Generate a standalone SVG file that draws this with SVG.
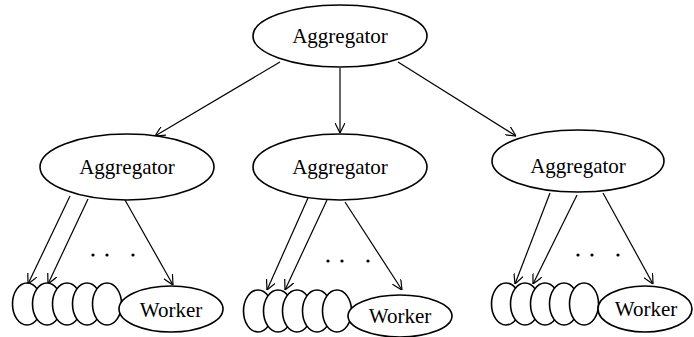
<svg xmlns="http://www.w3.org/2000/svg" width="694" height="337" viewBox="0 0 694 337">
<defs>
<marker id="arr" viewBox="0 0 10 10" refX="10" refY="5" markerWidth="10" markerHeight="10" markerUnits="userSpaceOnUse" orient="auto">
<path d="M0,0 L10,5 L0,10" fill="none" stroke="#000" stroke-width="1.2"/>
</marker>
</defs>
<style>
.n{fill:#fff;stroke:#000;stroke-width:1.6}
.t{font-family:"Liberation Serif",serif;font-size:21px;text-anchor:middle;fill:#000}
.c line{stroke:#000;stroke-width:1.2;marker-end:url(#arr)}
.d{fill:#000}
</style>
<rect width="694" height="337" fill="#fff"/>
<g class="c" id="connectors">
<line x1="280" y1="62" x2="155" y2="136"/>
<line x1="340" y1="68" x2="340" y2="133"/>
<line x1="398" y1="62" x2="516" y2="136"/>
<line x1="70" y1="196" x2="28" y2="284"/>
<line x1="88" y1="199" x2="48" y2="284"/>
<line x1="125" y1="200" x2="173" y2="285"/>
<line x1="308" y1="198" x2="267" y2="290"/>
<line x1="327" y1="200" x2="285" y2="290"/>
<line x1="345" y1="202" x2="402" y2="290"/>
<line x1="550" y1="193" x2="515" y2="284"/>
<line x1="577" y1="195" x2="533" y2="284"/>
<line x1="603" y1="193" x2="653" y2="284"/>
</g>
<g id="agg-top"><ellipse class="n" cx="340" cy="36" rx="87" ry="31"/><text class="t" x="340" y="43">Aggregator</text></g>
<g id="agg-left"><ellipse class="n" cx="127" cy="167" rx="87" ry="33"/><text class="t" x="127" y="174">Aggregator</text></g>
<g id="agg-mid"><ellipse class="n" cx="340" cy="167" rx="87" ry="33"/><text class="t" x="340" y="174">Aggregator</text></g>
<g id="agg-right"><ellipse class="n" cx="578" cy="161" rx="86" ry="31"/><text class="t" x="578" y="173">Aggregator</text></g>
<g id="workers-left">
<ellipse class="n" cx="27" cy="304" rx="14.5" ry="21"/>
<ellipse class="n" cx="47" cy="304" rx="14.5" ry="21"/>
<ellipse class="n" cx="67" cy="304" rx="14.5" ry="21"/>
<ellipse class="n" cx="87" cy="304" rx="14.5" ry="21"/>
<ellipse class="n" cx="107" cy="304" rx="14.5" ry="21"/>
<ellipse class="n" cx="171" cy="309" rx="52" ry="23"/><text class="t" x="171" y="317">Worker</text>
<circle class="d" cx="93" cy="255" r="1.6"/><circle class="d" cx="107" cy="255" r="1.6"/><circle class="d" cx="133" cy="255" r="1.6"/>
</g>
<g id="workers-mid">
<ellipse class="n" cx="258" cy="311" rx="14.5" ry="21"/>
<ellipse class="n" cx="278" cy="311" rx="14.5" ry="21"/>
<ellipse class="n" cx="297" cy="311" rx="14.5" ry="21"/>
<ellipse class="n" cx="317" cy="311" rx="14.5" ry="21"/>
<ellipse class="n" cx="337" cy="311" rx="14.5" ry="21"/>
<ellipse class="n" cx="400" cy="316" rx="52" ry="21"/><text class="t" x="400" y="323">Worker</text>
<circle class="d" cx="328" cy="261" r="1.6"/><circle class="d" cx="342" cy="261" r="1.6"/><circle class="d" cx="368" cy="261" r="1.6"/>
</g>
<g id="workers-right">
<ellipse class="n" cx="506" cy="304" rx="14.5" ry="21"/>
<ellipse class="n" cx="525" cy="304" rx="14.5" ry="21"/>
<ellipse class="n" cx="545" cy="304" rx="14.5" ry="21"/>
<ellipse class="n" cx="564" cy="304" rx="14.5" ry="21"/>
<ellipse class="n" cx="584" cy="304" rx="14.5" ry="21"/>
<ellipse class="n" cx="645" cy="309" rx="47" ry="23"/><text class="t" x="646" y="316">Worker</text>
<circle class="d" cx="578" cy="255" r="1.6"/><circle class="d" cx="592" cy="255" r="1.6"/><circle class="d" cx="618" cy="255" r="1.6"/>
</g>
</svg>
